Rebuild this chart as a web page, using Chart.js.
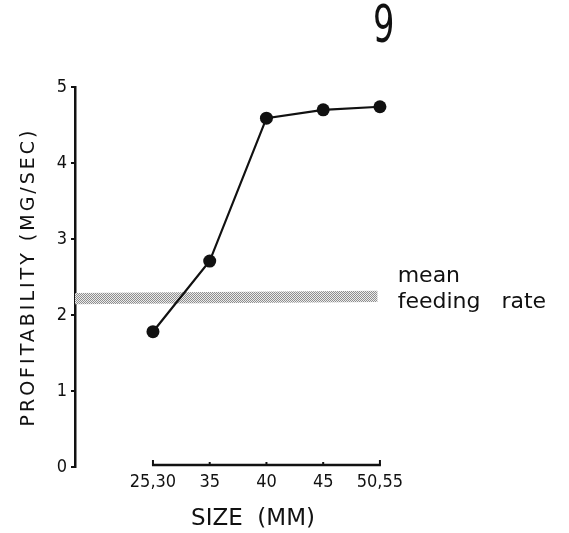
<!DOCTYPE html>
<html>
<head>
<meta charset="utf-8">
<script src="https://cdn.jsdelivr.net/npm/chart.js@4"></script>
<style>
  html, body { margin: 0; padding: 0; background: #ffffff; }
  #wrap { width: 569px; height: 533px; position: relative; }
</style>
</head>
<body>
<div id="wrap"><canvas id="c" width="569" height="533"></canvas></div>
<script>
// ---- data ----
const sizeLabels = ['25,30', '35', '40', '45', '50,55'];
const profitability = [1.78, 2.71, 4.59, 4.70, 4.74];
const yTicks = [0, 1, 2, 3, 4, 5];
const meanRateLow = [2.14, 2.17];
const meanRateHigh = [2.29, 2.32];
const meanRateEnd = 3.96;          // band ends just before last size class
const meanRateText = ['mean', 'feeding   rate'];
const panelLabel = '9';
const xTitle = 'SIZE  (MM)';
const yTitle = 'PROFITABILITY (MG/SEC)';

// ---- scale ranges ----
const xMin = -1.374, xMax = 4.9;

const ink = '#111111';
const numFont = { family: "'DejaVu Sans Condensed', 'DejaVu Sans', sans-serif", size: 18 };

const canvas = document.getElementById('c');
const ctx0 = canvas.getContext('2d');

// stippled grey band pattern
const pc = document.createElement('canvas');
pc.width = 2; pc.height = 2;
const pctx = pc.getContext('2d');
pctx.fillStyle = '#ececec';
pctx.fillRect(0, 0, 2, 2);
pctx.fillStyle = '#8e8e8e';
pctx.fillRect(0, 0, 1, 1);
pctx.fillRect(1, 1, 1, 1);
const bandPattern = ctx0.createPattern(pc, 'repeat');

const extras = {
  id: 'extras',
  beforeDraw(chart) {
    const s = chart.scales.y;
    if (s && !s._spaced) {
      const orig = s.drawTitle;
      s.drawTitle = function () {
        const c = this.ctx;
        c.save();
        c.letterSpacing = '3px';
        orig.call(this);
        c.restore();
      };
      s._spaced = true;
    }
  },
  afterDraw(chart) {
    const c = chart.ctx;
    const xs = chart.scales.x, ys = chart.scales.y;
    // x axis line, spanning only the size classes
    const x0 = xs.getPixelForValue(0), x4 = xs.getPixelForValue(sizeLabels.length - 1);
    const yb = ys.getPixelForValue(0) - 2;
    c.save();
    c.strokeStyle = ink;
    c.lineWidth = 2.5;
    c.beginPath();
    c.moveTo(x0 - 1, yb);
    c.lineTo(x4 + 1, yb);
    c.stroke();
    c.lineWidth = 2;
    sizeLabels.forEach((_, i) => {
      const px = xs.getPixelForValue(i);
      const len = (i === 0 || i === sizeLabels.length - 1) ? 5 : 3;
      c.beginPath();
      c.moveTo(px, yb);
      c.lineTo(px, yb - len);
      c.stroke();
    });
    // band label
    c.fillStyle = ink;
    c.font = "22px 'DejaVu Sans'";
    c.textAlign = 'left';
    c.textBaseline = 'alphabetic';
    const tx = xs.getPixelForValue(meanRateEnd) + 20;
    const ty = ys.getPixelForValue(meanRateHigh[1]);
    c.fillText(meanRateText[0], tx, ty - 9);
    c.fillText(meanRateText[1], tx, ty + 17);
    // panel number (narrow figure)
    c.translate(373, 42);
    c.scale(0.72, 1);
    c.font = "52px 'DejaVu Sans Condensed', 'DejaVu Sans', sans-serif";
    c.fillText(panelLabel, 0, 0);
    c.restore();
  }
};

new Chart(canvas, {
  type: 'line',
  data: {
    datasets: [
      {
        label: 'profitability',
        data: profitability.map((v, i) => ({ x: i, y: v })),
        borderColor: ink,
        backgroundColor: ink,
        borderWidth: 2.2,
        pointRadius: 6.5,
        pointBackgroundColor: ink,
        pointBorderWidth: 0,
        tension: 0,
        fill: false,
        order: 1
      },
      {
        label: 'mean feeding rate high',
        data: [{ x: xMin, y: meanRateHigh[0] }, { x: meanRateEnd, y: meanRateHigh[1] }],
        borderWidth: 0,
        borderColor: 'rgba(0,0,0,0)',
        pointRadius: 0,
        fill: false,
        order: 2
      },
      {
        label: 'mean feeding rate low',
        data: [{ x: xMin, y: meanRateLow[0] }, { x: meanRateEnd, y: meanRateLow[1] }],
        borderWidth: 0,
        borderColor: 'rgba(0,0,0,0)',
        backgroundColor: bandPattern,
        pointRadius: 0,
        fill: '-1',
        order: 2
      }
    ]
  },
  options: {
    responsive: false,
    animation: false,
    events: [],
    layout: { padding: { top: 87, right: 138, bottom: 0, left: 0 } },
    plugins: {
      legend: { display: false },
      tooltip: { enabled: false },
      filler: { propagate: false }
    },
    scales: {
      x: {
        type: 'linear',
        min: xMin,
        max: xMax,
        afterBuildTicks: s => { s.ticks = sizeLabels.map((_, i) => ({ value: i })); },
        afterFit: s => { s.height = 66; },
        ticks: {
          callback: v => sizeLabels[v],
          font: numFont,
          color: ink,
          padding: 5,
          maxRotation: 0,
          autoSkip: false
        },
        grid: { display: false, drawTicks: false },
        border: { display: false },
        title: {
          display: true,
          text: xTitle,
          font: { family: "'DejaVu Sans'", size: 23 },
          color: ink,
          padding: { top: 0, bottom: 0 }
        }
      },
      y: {
        type: 'linear',
        min: 0,
        max: 5,
        afterBuildTicks: s => { s.ticks = yTicks.map(v => ({ value: v })); },
        afterFit: s => { s.width = 75; },
        ticks: { font: numFont, color: ink, padding: 4 },
        grid: { drawOnChartArea: false, tickLength: 4, color: ink, lineWidth: 2 },
        border: { display: true, color: ink, width: 2.5 },
        title: {
          display: true,
          text: yTitle,
          font: { family: "'DejaVu Sans'", size: 19 },
          color: ink,
          padding: { top: 18, bottom: 0 }
        }
      }
    }
  },
  plugins: [extras]
});
</script>
</body>
</html>
